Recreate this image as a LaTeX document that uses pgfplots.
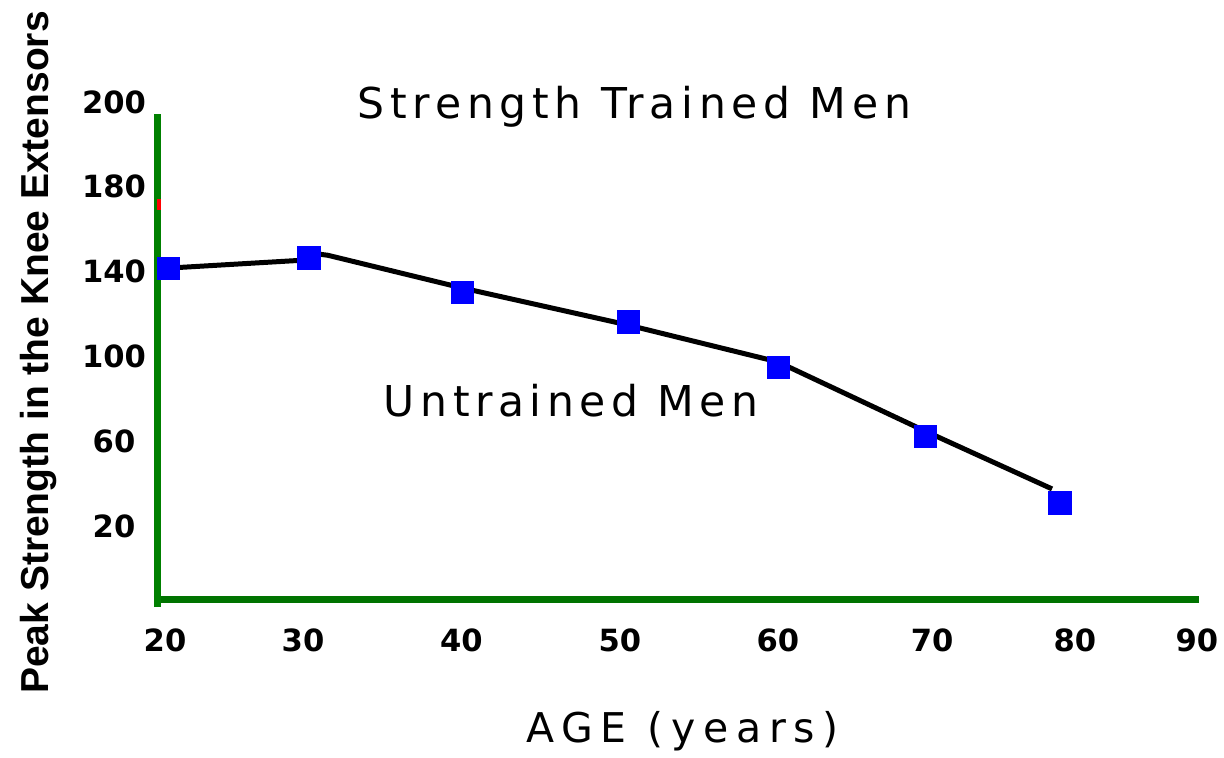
\documentclass[border=0pt]{standalone}
\usepackage{pgfplots}
\pgfplotsset{compat=1.18}
\usepackage{fontspec}
\setmainfont{DejaVu Sans}
\newfontfamily\ylabfont{Liberation Sans}
\newfontfamily\spaced{DejaVu Sans}[LetterSpace=13.5]
\newfontfamily\spacedb{DejaVu Sans}[LetterSpace=13]
\newfontfamily\spacedc{DejaVu Sans}[LetterSpace=19]
\definecolor{vgreen}{RGB}{0,128,0}
\definecolor{hgreen}{RGB}{0,115,0}
\definecolor{mblue}{RGB}{0,0,255}
\begin{document}
\begin{tikzpicture}
\begin{axis}[
  at={(0,0)}, anchor=south west,
  scale only axis, width=520.75pt, height=248.5pt,
  xmin=19.49, xmax=90.14, ymin=-14.43, ymax=220,
  axis lines=left,
  x axis line style={-, draw=hgreen, line width=3.5pt, shorten <=-1.75pt},
  y axis line style={-, draw=vgreen, line width=3.5pt, shorten >=6pt, shorten <=-4pt},
  xtick={20,29.36,40.11,50.86,61.58,72.03,81.72,90},
  xticklabels={20,30,40,50,60,70,80,90},
  ytick={20,60,100,140,180,220},
  yticklabels={20,60,100,140,180,200},
  major tick length=0pt,
  tick style={draw=none},
  xticklabel style={font=\bfseries\fontsize{15.3}{16}\selectfont, anchor=center, yshift=-20.5pt},
  yticklabel style={font=\bfseries\fontsize{15.3}{16}\selectfont, anchor=center, xshift=-21.75pt},
  clip=false,
]
\addplot[color=mblue, only marks, mark=square*, mark size=5.6pt, mark options={draw=mblue, fill=mblue, line width=0pt}]
  coordinates {(20.24,141.5) (29.77,146.4) (40.18,130.1) (51.44,116.2) (61.61,94.8) (71.59,62.2) (80.71,30.8)};
\addplot[black, line width=2.5pt, line join=round, no marks]
  coordinates {(20.34,141.7) (29.63,145.5) (30.04,148.6) (31.05,147.7) (40.15,132.3) (51.41,114.8) (61.58,97.4) (71.55,64.8) (80.17,37.5)};
\end{axis}
\draw[red, line width=2pt] (0.75pt,194.5pt) -- (0.75pt,200pt);
\node[anchor=base, font=\spaced\fontsize{21.25}{24}\selectfont, inner sep=0pt] at (238.5pt,240.5pt) {Strength Trained Men};
\node[anchor=base, font=\spacedb\fontsize{21.25}{24}\selectfont, inner sep=0pt] at (206.75pt,91.5pt) {Untrained Men};
\node[anchor=base, font=\spacedc\fontsize{20.5}{24}\selectfont, inner sep=0pt] at (262.5pt,-71.5pt) {AGE (years)};
\node[anchor=base, rotate=90, font=\ylabfont\bfseries\fontsize{19.5}{22}\selectfont, inner sep=0pt] at (-54.25pt,123.25pt) {Peak Strength in the Knee Extensors};
\pgfresetboundingbox
\path[use as bounding box] (-78.75pt,-79pt) rectangle (533.25pt,299.5pt);
\end{tikzpicture}
\end{document}
